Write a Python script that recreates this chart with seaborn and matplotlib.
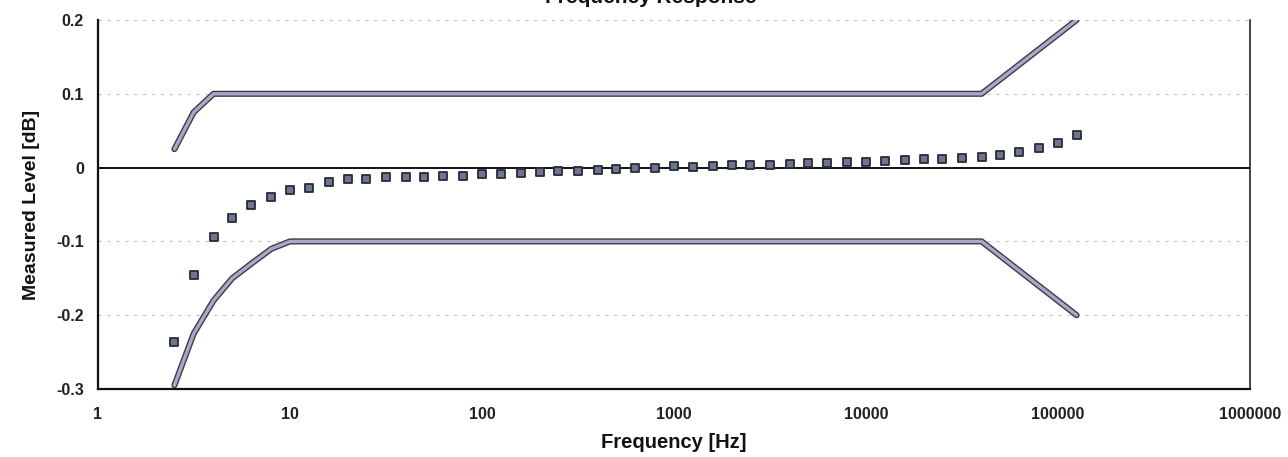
import matplotlib
matplotlib.use("Agg")
import matplotlib.pyplot as plt
import matplotlib.patheffects as pe
import matplotlib.ticker as mticker
import pandas as pd
import seaborn as sns

# third-octave measurement frequencies [Hz]
freqs = [2.5, 3.15, 4, 5, 6.3, 8,
         10, 12.5, 16, 20, 25, 31.5, 40, 50, 63, 80,
         100, 125, 160, 200, 250, 315, 400, 500, 630, 800,
         1000, 1250, 1600, 2000, 2500, 3150, 4000, 5000, 6300, 8000,
         10000, 12500, 16000, 20000, 25000, 31500, 40000, 50000, 63000, 80000,
         100000, 125000]
# measured level [dB]
measured = [-0.236, -0.145, -0.094, -0.068, -0.050, -0.040,
            -0.031, -0.027, -0.020, -0.015, -0.015, -0.013, -0.013, -0.013, -0.012, -0.011,
            -0.009, -0.008, -0.007, -0.006, -0.005, -0.004, -0.003, -0.002, -0.001, 0.000,
            0.002, 0.001, 0.002, 0.003, 0.003, 0.004, 0.005, 0.006, 0.006, 0.007,
            0.008, 0.009, 0.010, 0.011, 0.012, 0.013, 0.015, 0.017, 0.021, 0.026,
            0.033, 0.044]

# tolerance limits
upper_f = [2.5, 3.15, 4, 40000, 125000]
upper_db = [0.025, 0.075, 0.1, 0.1, 0.2]
lower_f = [2.5, 3.15, 4, 5, 6.3, 8, 10, 40000, 125000]
lower_db = [-0.295, -0.225, -0.18, -0.15, -0.13, -0.11, -0.1, -0.1, -0.2]

x_ticks = [1, 10, 100, 1000, 10000, 100000, 1000000]
y_ticks = [-0.3, -0.2, -0.1, 0, 0.1, 0.2]
y_tick_labels = ["-0.3", "-0.2", "-0.1", "0", "0.1", "0.2"]

sns.set_style("white")
plt.rcParams["font.family"] = ["Liberation Sans", "DejaVu Sans"]

fig = plt.figure(figsize=(12.88, 4.57), dpi=100)
ax = fig.add_axes([98 / 1288, 1 - 389 / 457, (1250 - 98) / 1288, (389 - 20) / 457])

limit_fx = [pe.Stroke(linewidth=4.4, foreground="#3b3b4c"), pe.Normal()]
upper = pd.DataFrame({"f": upper_f, "db": upper_db})
lower = pd.DataFrame({"f": lower_f, "db": lower_db})
for df in (upper, lower):
    sns.lineplot(data=df, x="f", y="db", ax=ax, color="#a9a9c6", linewidth=2.4,
                 sort=False, path_effects=limit_fx, zorder=3)

meas = pd.DataFrame({"f": freqs, "db": measured})
sns.scatterplot(data=meas, x="f", y="db", ax=ax, marker="s", s=36,
                color="#6d768a", edgecolor="#262b3a", linewidth=1.3, zorder=4)

ax.set_xscale("log")
ax.set_xlim(1, 1000000)
ax.set_ylim(-0.3, 0.2)
ax.xaxis.set_major_locator(mticker.FixedLocator(x_ticks))
ax.xaxis.set_major_formatter(mticker.FuncFormatter(lambda v, p: f"{v:.0f}"))
ax.xaxis.set_minor_locator(mticker.NullLocator())
ax.set_yticks(y_ticks)
ax.set_yticklabels(y_tick_labels)
ax.tick_params(axis="both", length=0, labelsize=11.5)
ax.tick_params(axis="x", pad=13)
ax.tick_params(axis="y", pad=10)
for lab in ax.get_xticklabels() + ax.get_yticklabels():
    lab.set_fontweight("bold")
    lab.set_color("#222222")

for yv in (0.2, 0.1, -0.1, -0.2):
    ax.axhline(yv, color="#c4c4cc", linewidth=0.8, linestyle=(0, (3, 5)), zorder=1)
ax.axhline(0, color="#111111", linewidth=1.4, zorder=2)

ax.spines["top"].set_visible(False)
ax.spines["left"].set_linewidth(1.6)
ax.spines["bottom"].set_linewidth(1.6)
ax.spines["right"].set_linewidth(1.1)
for s in ("left", "bottom", "right"):
    ax.spines[s].set_color("#111111")

ax.set_xlabel("Frequency [Hz]", fontsize=14.5, fontweight="bold", labelpad=8, color="#111111")
ax.set_ylabel("Measured Level [dB]", fontsize=14, fontweight="bold", labelpad=12, color="#111111")

# title sits at the very top edge, as in the scanned original
fig.text(0.505, 0.985, "Frequency Response", ha="center", va="bottom",
         fontsize=15, fontweight="bold", color="#111111")

fig.savefig("out.png", dpi=100, facecolor="white")
